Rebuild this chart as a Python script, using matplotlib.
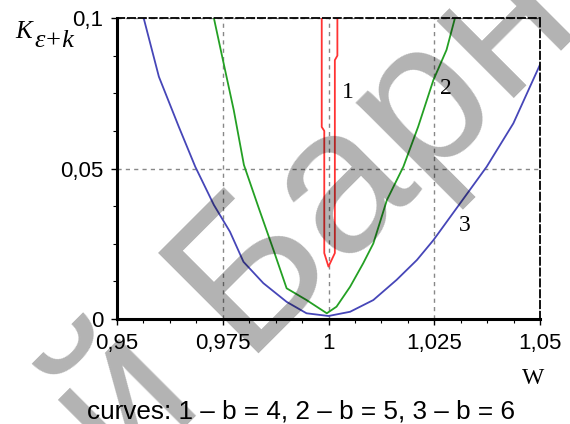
import matplotlib
matplotlib.use("Agg")
import matplotlib.pyplot as plt
from matplotlib.ticker import MultipleLocator

# curve 1 (b = 4), curve 2 (b = 5), curve 3 (b = 6)
w1 = [0.9984, 0.9984, 0.9990, 0.9990, 1.0000, 1.0015, 1.0015, 1.0021, 1.0021]
k1 = [0.100, 0.0638, 0.0625, 0.0219, 0.0174, 0.0219, 0.0860, 0.0875, 0.100]

w2 = [0.9729, 0.9752, 0.9776, 0.9800, 0.9835, 0.9870, 0.9901, 0.9948, 0.9996,
      1.0019, 1.0051, 1.0082, 1.0106, 1.0138, 1.0177, 1.0212, 1.0248, 1.0279, 1.0299]
k2 = [0.100, 0.085, 0.0694, 0.0512, 0.0369, 0.0229, 0.0102, 0.0063, 0.0019,
      0.0041, 0.0107, 0.0185, 0.0251, 0.0395, 0.0506, 0.0639, 0.0794, 0.0894, 0.100]

w3 = [0.9563, 0.9599, 0.9646, 0.9685, 0.9729, 0.9767, 0.9799, 0.9846, 0.9901, 0.9948,
      1.0000, 1.0051, 1.0106, 1.0161, 1.0209, 1.0248, 1.0311, 1.0374, 1.0437, 1.0500]
k3 = [0.100, 0.0805, 0.0639, 0.0506, 0.0379, 0.029, 0.019, 0.0119, 0.0057, 0.0019,
      0.001, 0.0024, 0.0063, 0.013, 0.0196, 0.0262, 0.0384, 0.0506, 0.065, 0.0845]

xticks = [0.95, 0.975, 1.0, 1.025, 1.05]
xtick_labels = ["0,95", "0,975", "1", "1,025", "1,05"]
yticks = [0.0, 0.05, 0.1]
ytick_labels = ["0", "0,05", "0,1"]

curve_labels = ["1", "2", "3"]
label_pos = [(1.0046, 0.0751), (1.0278, 0.0767), (1.0323, 0.0312)]

sans = "Liberation Sans"
serif = "Liberation Serif"

fig = plt.figure(figsize=(5.7, 4.24), dpi=100)
ax = fig.add_axes([117 / 570, 1 - 319 / 424, 423 / 570, 301 / 424])

ax.plot(w3, k3, color="#4646b8", lw=1.3)
ax.plot(w2, k2, color="#24a024", lw=1.3)
ax.plot(w1, k1, color="#ff3333", lw=1.3)

ax.set_xlim(0.95, 1.05)
ax.set_ylim(0, 0.1)
ax.set_xticks(xticks)
ax.set_xticklabels(xtick_labels, fontfamily=sans, fontsize=16)
ax.set_yticks(yticks)
ax.set_yticklabels(ytick_labels, fontfamily=sans, fontsize=16)
ax.xaxis.set_minor_locator(MultipleLocator(0.00625))
ax.yaxis.set_minor_locator(MultipleLocator(0.0125))
ax.tick_params(which="major", direction="out", length=4, width=1, pad=6)
ax.tick_params(which="minor", direction="out", length=3, width=0.8)

ax.grid(True, which="major", color="#888888", lw=1, ls=(0, (3, 3)))
ax.set_axisbelow(True)

for side in ["left", "bottom"]:
    ax.spines[side].set_linewidth(2.2)
for side in ["top", "right"]:
    ax.spines[side].set_linewidth(1.3)
    ax.spines[side].set_linestyle((0, (4, 2)))

for txt, (x, y) in zip(curve_labels, label_pos):
    ax.text(x, y, txt, fontfamily=serif, fontsize=17, ha="center", va="center")

# axis titles
fig.text(15 / 570, 1 - 38 / 424, "K", fontfamily=serif, style="italic", fontsize=18,
         ha="left", va="baseline")
fig.text(34 / 570, 1 - 47 / 424, "\u03b5+k", fontfamily=serif, style="italic", fontsize=19,
         ha="left", va="baseline")
fig.text(533 / 570, 1 - 378 / 424, "W", fontfamily=serif, fontsize=17, ha="center", va="center")
fig.text(301 / 570, 1 - 419 / 424, "curves: 1 \u2013 b = 4, 2 \u2013 b = 5, 3 \u2013 b = 6",
         fontfamily=sans, fontsize=18.8, ha="center", va="baseline")

# watermark
fig.text(126 / 570, 1 - 487 / 424, "\u0439 \u0411\u0430\u0440\u043d", fontfamily=sans,
         fontsize=148, color="black", alpha=0.3, rotation=45, rotation_mode="anchor",
         ha="left", va="baseline")

fig.savefig("out.png", dpi=100)
